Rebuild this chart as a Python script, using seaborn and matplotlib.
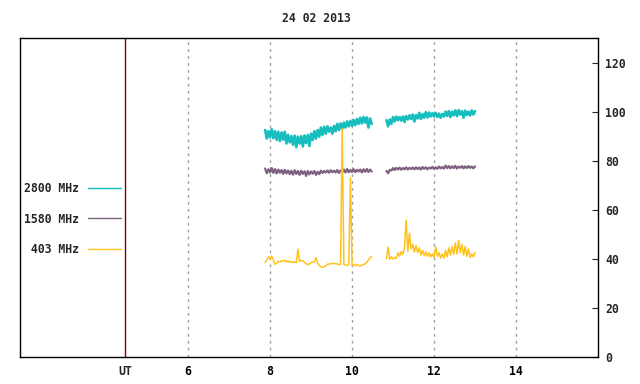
import matplotlib

matplotlib.use("Agg")
import matplotlib.pyplot as plt
from matplotlib.lines import Line2D
import numpy as np
import pandas as pd
import seaborn as sns

title = "24 02 2013"
bands = ["2800 MHz", "1580 MHz", "403 MHz"]
colors = {"2800 MHz": "#17bebe", "1580 MHz": "#7e6080", "403 MHz": "#ffc21c"}
widths = {"2800 MHz": 1.9, "1580 MHz": 1.6, "403 MHz": 1.1}

# sampling grid of the two recording periods (hours UT)
t_seg1 = np.round(7.88 + 0.04 * np.arange(66), 2)
t_seg2 = np.round(10.84 + 0.04 * np.arange(55), 2)

f2800_seg1 = [
    92.5, 89.0, 92.0, 89.5, 92.8, 89.2, 92.0, 88.5, 91.8, 88.0,
    91.5, 88.6, 91.8, 87.0, 90.5, 87.5, 90.0, 86.5, 90.2, 85.5,
    89.8, 87.0, 90.0, 85.8, 90.3, 87.2, 90.5, 86.0, 91.0, 88.5,
    92.0, 89.0, 92.5, 89.8, 93.5, 90.5, 93.8, 91.0, 94.0, 91.8,
    93.5, 91.0, 94.2, 92.0, 95.0, 92.5, 95.2, 93.0, 95.5, 93.5,
    96.0, 94.0, 96.2, 94.2, 96.5, 94.5, 97.0, 95.0, 97.5, 95.2,
    97.8, 95.5, 97.6, 93.5, 97.2, 95.0,
]
f2800_seg2 = [
    96.5, 94.0, 96.8, 95.0, 97.8, 96.0, 98.0, 96.5, 97.8, 96.3,
    98.0, 95.8, 98.2, 96.8, 98.5, 97.0, 98.8, 96.0, 98.6, 97.2,
    99.5, 97.0, 99.0, 97.5, 99.8, 97.6, 99.6, 98.0, 99.4, 98.0,
    99.5, 97.8, 99.2, 97.5, 99.0, 98.0, 100.0, 98.2, 100.2, 97.8,
    100.0, 98.5, 100.5, 98.2, 100.6, 98.8, 100.2, 97.5, 100.4, 98.6,
    100.0, 98.4, 100.5, 98.8, 100.2,
]
f1580_seg1 = [
    76.8, 74.9, 76.5, 75.2, 77.0, 75.0, 76.6, 74.8, 76.4, 75.1,
    76.2, 74.6, 76.3, 74.8, 76.0, 74.5, 75.9, 74.3, 76.1, 74.6,
    75.8, 74.2, 75.9, 74.6, 75.7, 73.8, 75.8, 74.4, 75.6, 74.7,
    75.8, 74.2, 75.5, 74.5, 75.9, 75.0, 75.8, 75.2, 76.0, 75.1,
    76.1, 75.3, 75.9, 75.2, 76.2, 75.0, 76.0, 75.4, 76.4, 75.2,
    76.6, 75.3, 76.2, 75.4, 76.5, 75.3, 76.3, 75.6, 76.4, 75.2,
    76.5, 75.5, 76.6, 75.4, 76.4, 75.6,
]
f1580_seg2 = [
    75.8, 74.9, 76.3, 76.0, 77.0, 76.2, 77.1, 76.4, 77.2, 76.3,
    77.0, 76.5, 77.3, 76.4, 77.1, 76.6, 77.2, 76.5, 77.3, 76.6,
    77.2, 76.4, 77.4, 76.7, 77.3, 76.5, 77.2, 76.8, 77.5, 76.6,
    77.3, 76.7, 77.6, 76.9, 77.4, 76.8, 78.0, 77.0, 77.8, 76.9,
    77.7, 77.0, 77.9, 76.8, 77.6, 77.1, 77.8, 76.9, 77.7, 77.0,
    77.8, 77.1, 77.6, 76.9, 77.7,
]
f403_seg1 = [
    38.5, 39.5, 40.8, 40.0, 41.2, 39.5, 37.8, 38.2, 39.0, 38.6,
    39.3, 39.0, 39.5, 38.7, 39.2, 38.6, 38.9, 38.5, 38.8, 38.4,
    44.0, 38.9, 39.5, 39.2, 38.5, 38.0, 37.6, 38.0, 38.4, 38.7,
    38.8, 40.5, 38.2, 37.3, 36.8, 36.6, 36.7, 37.2, 37.8, 37.9,
    38.0, 38.2, 38.0, 38.1, 37.9, 37.6, 37.8, 93.0, 37.7, 37.5,
    37.3, 37.6, 73.0, 37.4, 37.6, 37.2, 37.8, 37.3, 37.1, 37.5,
    37.6, 38.0, 38.6, 39.5, 40.5, 40.8,
]
f403_seg2 = [
    40.0, 44.8, 39.8, 40.8, 39.9, 40.6, 40.2, 42.5, 41.0, 43.0,
    41.8, 44.5, 55.8, 43.0, 50.5, 44.0, 46.0, 42.8, 45.5, 42.5,
    44.5, 41.5, 43.5, 41.2, 42.8, 41.0, 42.5, 40.8, 42.0, 40.5,
    45.0, 41.0, 42.5, 40.3, 42.0, 40.2, 43.5, 40.8, 44.5, 41.5,
    45.0, 41.8, 46.5, 42.0, 47.5, 42.5, 46.0, 41.5, 45.0, 41.0,
    44.0, 40.5, 42.0, 40.8, 42.5,
]

x_ticks = [6, 8, 10, 12, 14]
y_ticks = [0, 20, 40, 60, 80, 100, 120]
ut_mark = 4.46

series = {
    "2800 MHz": (f2800_seg1, f2800_seg2),
    "1580 MHz": (f1580_seg1, f1580_seg2),
    "403 MHz": (f403_seg1, f403_seg2),
}
frames = []
for band, (s1, s2) in series.items():
    frames.append(pd.DataFrame({"time": t_seg1, "flux": s1, "band": band, "seg": 1}))
    frames.append(pd.DataFrame({"time": t_seg2, "flux": s2, "band": band, "seg": 2}))
df = pd.concat(frames, ignore_index=True)

sns.set_style("white")
plt.rcParams["font.family"] = ["DejaVu Sans Mono"]
plt.rcParams["font.weight"] = "bold"
plt.rcParams["font.size"] = 8.3

fig = plt.figure(figsize=(6.4, 3.84), dpi=100)
ax = fig.add_axes([20 / 640, 27 / 384, 578 / 640, 319 / 384])

for band in bands:
    sns.lineplot(
        data=df[df["band"] == band], x="time", y="flux", units="seg",
        estimator=None, sort=False, color=colors[band], linewidth=widths[band],
        legend=False, ax=ax,
    )

ax.set_xlim(1.9, 16.0)
ax.set_ylim(0, 130)
ax.axvline(ut_mark, color="#800000", lw=1.0, zorder=1)

ax.set_xticks(x_ticks, [str(v) for v in x_ticks])
ax.set_xticks([ut_mark], ["UT"], minor=True)
ax.tick_params(axis="x", which="minor", length=0, pad=6)
ax.tick_params(axis="x", which="major", direction="in", length=4, pad=6, colors="black")
ax.xaxis.grid(True, which="major", color="#a0a0a0", linestyle=(0, (2, 3)), lw=1)
ax.yaxis.tick_right()
ax.set_yticks(y_ticks)
ax.tick_params(axis="y", direction="in", length=4, pad=5)
ax.set_xlabel("")
ax.set_ylabel("")
for sp in ax.spines.values():
    sp.set_color("black")
    sp.set_linewidth(1)

handles = [Line2D([], [], color=colors[b], lw=1) for b in bands]
labels = [b.rjust(8) for b in bands]
ax.legend(
    handles, labels, loc="center right", bbox_to_anchor=(0.1747, 0.4326),
    frameon=False, markerfirst=False, handlelength=2.9, handletextpad=0.7,
    labelspacing=1.53, borderpad=0, borderaxespad=0,
)

fig.text(316 / 640, 1 - 18 / 384, title, ha="center", va="center")

fig.savefig("out.png", dpi=100)
plt.close(fig)
